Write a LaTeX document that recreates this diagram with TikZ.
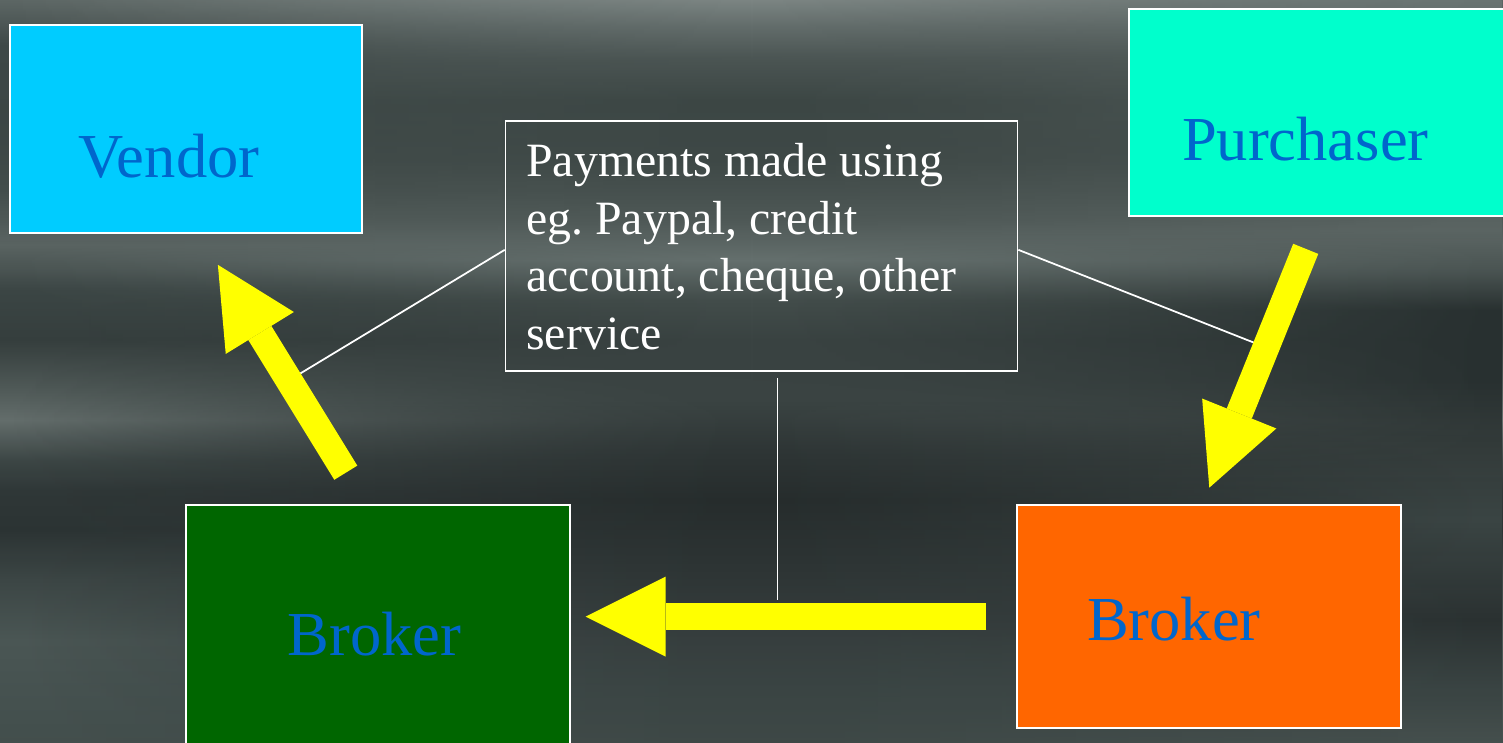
\documentclass[tikz,border=0pt]{standalone}
\usepackage{fontspec}
\setmainfont{Liberation Serif}
\usetikzlibrary{arrows.meta,fadings}
\frenchspacing

\definecolor{vendorfill}{HTML}{00CCFF}
\definecolor{purchfill}{HTML}{00FFCC}
\definecolor{brokergreen}{HTML}{006600}
\definecolor{brokerorange}{HTML}{FF6600}
\definecolor{labelblue}{HTML}{0066CC}
\definecolor{flowyellow}{HTML}{FFFF00}

% streaked slate background: three vertical profiles (left, middle, right)
\pgfdeclareverticalshading{bgleft}{100bp}{%
  rgb(0bp)=(0.267,0.314,0.306); rgb(25bp)=(0.267,0.314,0.306);
  rgb(28.57bp)=(0.282,0.329,0.322); rgb(31.93bp)=(0.298,0.345,0.337);
  rgb(35.97bp)=(0.243,0.282,0.278); rgb(39.33bp)=(0.173,0.204,0.204);
  rgb(42.02bp)=(0.188,0.220,0.220); rgb(44.04bp)=(0.243,0.282,0.278);
  rgb(46.74bp)=(0.396,0.435,0.427); rgb(48.76bp)=(0.322,0.361,0.353);
  rgb(52.12bp)=(0.212,0.247,0.243); rgb(55.48bp)=(0.235,0.275,0.271);
  rgb(58.51bp)=(0.353,0.392,0.384); rgb(62.21bp)=(0.263,0.302,0.294);
  rgb(66.92bp)=(0.235,0.275,0.271); rgb(71.97bp)=(0.243,0.282,0.278);
  rgb(74.33bp)=(0.337,0.376,0.369); rgb(75bp)=(0.361,0.400,0.392);
  rgb(100bp)=(0.361,0.400,0.392)}
\pgfdeclareverticalshading{bgmid}{100bp}{%
  rgb(0bp)=(0.243,0.282,0.275); rgb(25bp)=(0.243,0.282,0.275);
  rgb(28.57bp)=(0.227,0.267,0.263); rgb(31.93bp)=(0.212,0.243,0.243);
  rgb(37.31bp)=(0.173,0.200,0.200); rgb(41.35bp)=(0.149,0.173,0.173);
  rgb(44.72bp)=(0.180,0.208,0.208); rgb(48.09bp)=(0.227,0.263,0.259);
  rgb(52.12bp)=(0.227,0.263,0.259); rgb(54.81bp)=(0.263,0.302,0.294);
  rgb(57.50bp)=(0.396,0.439,0.431); rgb(60.20bp)=(0.306,0.345,0.337);
  rgb(64.23bp)=(0.243,0.282,0.275); rgb(68.27bp)=(0.235,0.275,0.267);
  rgb(70.96bp)=(0.290,0.329,0.322); rgb(73.32bp)=(0.392,0.431,0.424);
  rgb(75bp)=(0.486,0.522,0.514); rgb(100bp)=(0.486,0.522,0.514)}
\pgfdeclareverticalshading{bgright}{100bp}{%
  rgb(0bp)=(0.275,0.314,0.306); rgb(25bp)=(0.275,0.314,0.306);
  rgb(28.57bp)=(0.227,0.267,0.263); rgb(33.28bp)=(0.165,0.192,0.192);
  rgb(40.01bp)=(0.235,0.275,0.271); rgb(44.72bp)=(0.204,0.235,0.231);
  rgb(49.43bp)=(0.157,0.188,0.188); rgb(54.14bp)=(0.157,0.188,0.188);
  rgb(56.83bp)=(0.290,0.329,0.322); rgb(59.52bp)=(0.361,0.400,0.392);
  rgb(64.91bp)=(0.306,0.345,0.337); rgb(71.64bp)=(0.353,0.392,0.384);
  rgb(75bp)=(0.416,0.455,0.447); rgb(100bp)=(0.416,0.455,0.447)}

\tikzfading[name=towardright, left color=transparent!100, right color=transparent!0]
\tikzfading[name=towardmid, left color=transparent!100, right color=transparent!100, middle color=transparent!0]

\tikzset{
  box/.style={draw=white, line width=0.6pt, inner sep=0pt},
  infobox/.style={draw=white, line width=0.45pt, inner sep=0pt},
  lbl/.style={inner sep=0pt, text=labelblue, font=\fontsize{17.8pt}{21pt}\selectfont},
  paytxt/.style={inner sep=0pt, text=white, font=\fontsize{13.6pt}{16.36pt}\selectfont},
  wire/.style={draw=white, line width=0.5pt},
  flow/.style={draw=flowyellow, line width=0.27cm,
    -{Triangle[width=0.8cm, length=0.8cm, line width=0pt]}}
}

\begin{document}
\begin{tikzpicture}
\useasboundingbox (0,0) rectangle (15.03,7.43);
\clip (0,0) rectangle (15.03,7.43);

% background
\shade[shading=bgleft] (0,0) rectangle (15.03,7.43);
\shade[shading=bgright, path fading=towardright] (0,0) rectangle (15.03,7.43);
\shade[shading=bgmid, path fading=towardmid] (0,0) rectangle (15.03,7.43);

\begin{scope}[shift={(0cm,7.43cm)}, x=0.01cm, y=-0.01cm]
  % parties
  \node[box, fill=vendorfill, minimum width=3.52cm, minimum height=2.08cm] (vendor) at (186,129) {};
  \node[box, fill=purchfill, minimum width=3.9cm, minimum height=2.07cm] (purchaser) at (1325,112.5) {};
  \node[box, fill=brokergreen, minimum width=3.84cm, minimum height=2.55cm] (brokerL) at (378,632.5) {};
  \node[box, fill=brokerorange, minimum width=3.84cm, minimum height=2.23cm] (brokerR) at (1210,616.5) {};
  \node[infobox, minimum width=5.12cm, minimum height=2.5cm] (pay) at (762,246) {};

  % ends of the flow arrows and of the thin call-out lines
  \coordinate (flowA) at (346,473);   \coordinate (flowAtip) at (218,265);
  \coordinate (flowB) at (1306.5,249); \coordinate (flowBtip) at (1210,488);
  \coordinate (flowC) at (987,617);   \coordinate (flowCtip) at (586,617);
  \coordinate (wireA) at (300,374);
  \coordinate (wireB) at (1255,343);
  \coordinate (wireCtop) at (778,378); \coordinate (wireCend) at (778,600);

  % call-out lines from the payment box
  \draw[wire] ([yshift=-0.04cm]pay.west) -- (wireA);
  \draw[wire] ([yshift=-0.04cm]pay.east) -- (wireB);
  \draw[wire] (wireCtop) -- (wireCend);

  % money flow
  \draw[flow] (flowA) -- (flowAtip);
  \draw[flow] (flowB) -- (flowBtip);
  \draw[flow] (flowC) -- (flowCtip);

  % labels
  \node[lbl, anchor=base west] (vendorlbl) at (78,178) {Vendor};
  \node[lbl, anchor=base west] (purchaserlbl) at (1182,161) {Purchaser};
  \node[lbl, anchor=base west] (brokerLlbl) at (287,656) {Broker};
  \node[lbl, anchor=base west] (brokerRlbl) at (1087,641) {Broker};
  \node[paytxt, anchor=base west] (paylbl) at (526,177)
    {\parbox[t]{4.8cm}{\raggedright Payments made using\\ eg. Paypal, credit\\ account, cheque, other\\ service}};
\end{scope}
\end{tikzpicture}
\end{document}
